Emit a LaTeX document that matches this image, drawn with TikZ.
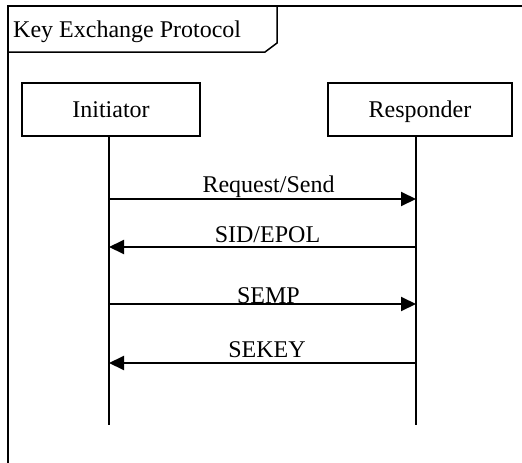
\documentclass[tikz,border=0pt]{standalone}
\usepackage{fontspec}
\setmainfont{Liberation Serif}
\usetikzlibrary{arrows.meta}
\begin{document}
\begin{tikzpicture}[x=1pt,y=-1pt,
  every node/.style={font=\fontsize{24}{28}\selectfont},
  actor/.style={draw,line width=1.3pt,minimum height=53pt,inner sep=0pt,text height=20pt,text depth=5pt},
  lifeline/.style={line width=1.2pt},
  msg/.style={line width=2pt,-{Triangle[length=15pt,width=14pt]}},
  lbl/.style={anchor=base,inner sep=0pt},
  frameline/.style={line width=2pt}]
\useasboundingbox (0,0) rectangle (522,463);
\fill[white] (0,0) rectangle (522,463);
% frame
\draw[frameline] (7.5,463) -- (7.5,5.5) -- (522,5.5);
\draw[line width=1.5pt] (7.5,52) -- (265,52) -- (277,43) -- (277,5.5);
\node[anchor=base west,inner sep=0pt] (title) at (13,37) {Key Exchange Protocol};
% actors
\node[actor,minimum width=178pt] (ini) at (111,109.5) {Initiator};
\node[actor,minimum width=184pt] (res) at (420,109.5) {Responder};
\coordinate (it) at (109,136);
\coordinate (ib) at (109,425);
\coordinate (rt) at (416,136);
\coordinate (rb) at (416,425);
\draw[lifeline] (it) -- (ib);
\draw[lifeline] (rt) -- (rb);
% messages
\coordinate (a1) at (109,199); \coordinate (b1) at (416,199);
\coordinate (a2) at (109,247); \coordinate (b2) at (416,247);
\coordinate (a3) at (109,304); \coordinate (b3) at (416,304);
\coordinate (a4) at (109,363); \coordinate (b4) at (416,363);
\draw[msg] (a1) -- (b1);
\draw[msg] (b2) -- (a2);
\draw[msg] (a3) -- (b3);
\draw[msg] (b4) -- (a4);
\node[lbl] (l1) at (268.5,192) {Request/Send};
\node[lbl] (l2) at (267.5,242) {SID/EPOL};
\node[lbl] (l3) at (268.5,303) {SEMP};
\node[lbl] (l4) at (267,357) {SEKEY};
\end{tikzpicture}
\end{document}
